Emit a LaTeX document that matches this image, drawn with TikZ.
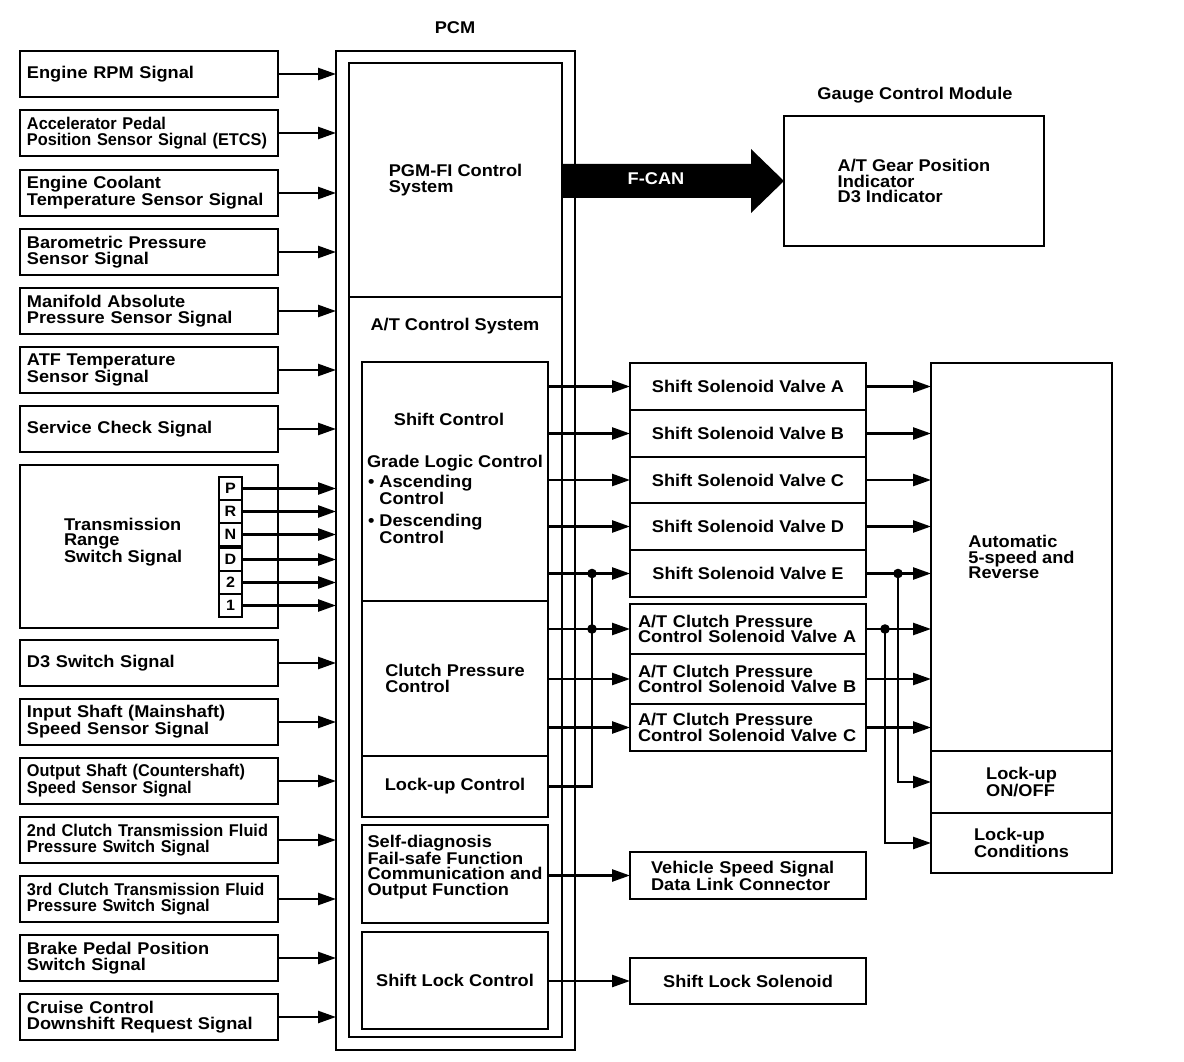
\documentclass[tikz,border=0pt]{standalone}
\usepackage{fontspec}
\newfontfamily\dfont{Liberation Sans}[FakeStretch=1.07]
\newfontfamily\nfont{Liberation Sans}[FakeStretch=0.96]
\usetikzlibrary{arrows.meta}
\newcommand\dtxt{\dfont\bfseries\fontsize{17}{15.5}\selectfont}
\newcommand\ntxt{\nfont\bfseries\fontsize{17}{15.5}\selectfont}
\begin{document}
\begin{tikzpicture}[x=1pt,y=-1pt,
  every node/.style={font=\dtxt, inner sep=0pt, outer sep=0pt},
  bx/.style={draw, line width=1.9pt},
  thinbx/.style={draw, line width=1.5pt},
  inbox/.style={bx, text width=244pt, inner xsep=7pt, minimum height=46pt, align=left, anchor=west},
  cell/.style={draw, line width=1.6pt, minimum width=23pt, minimum height=23pt, font=\dfont\bfseries\fontsize{15}{15}\selectfont},
  sol/.style={thinbx, minimum width=236pt, align=center, anchor=north west},
  cpv/.style={thinbx, text width=220pt, inner xsep=8pt, minimum height=50pt, align=left, anchor=north west},
  sub/.style={thinbx, minimum width=186pt, align=left, anchor=north west},
  rbx/.style={bx, minimum width=181pt, align=left, anchor=north west},
  conn/.style={line width=2.5pt, -{Triangle[length=18pt,width=12pt]}},
  wire/.style={line width=2.5pt}
]
\useasboundingbox (0,0) rectangle (1184,1062);

% ---------- input signal boxes ----------
\node[inbox] (i1) at (20,74) {Engine RPM Signal};
\node[inbox, font=\ntxt] (i2) at (20,133) {Accelerator Pedal\\Position Sensor Signal (ETCS)};
\node[inbox] (i3) at (20,193) {Engine Coolant\\Temperature Sensor Signal};
\node[inbox] (i4) at (20,252) {Barometric Pressure\\Sensor Signal};
\node[inbox] (i5) at (20,311) {Manifold Absolute\\Pressure Sensor Signal};
\node[inbox] (i6) at (20,370) {ATF Temperature\\Sensor Signal};
\node[inbox] (i7) at (20,429) {Service Check Signal};
\node[inbox] (i8) at (20,663) {D3 Switch Signal};
\node[inbox] (i9) at (20,722) {Input Shaft (Mainshaft)\\Speed Sensor Signal};
\node[inbox, font=\ntxt] (i10) at (20,781) {Output Shaft (Countershaft)\\Speed Sensor Signal};
\node[inbox, font=\ntxt] (i11) at (20,840) {2nd Clutch Transmission Fluid\\Pressure Switch Signal};
\node[inbox, font=\ntxt] (i12) at (20,899) {3rd Clutch Transmission Fluid\\Pressure Switch Signal};
\node[inbox] (i13) at (20,958) {Brake Pedal Position\\Switch Signal};
\node[inbox] (i14) at (20,1017) {Cruise Control\\Downshift Request Signal};

% transmission range switch
\node[bx, minimum width=258pt, minimum height=163pt, anchor=north west] (trs) at (20,465) {};
\node[anchor=west, align=left] (trl) at (64,542) {Transmission\\Range\\Switch Signal};
\node[cell] (cP) at (230.5,488.5) {P};
\node[cell] (cR) at (230.5,511.5) {R};
\node[cell] (cN) at (230.5,534.5) {N};
\node[cell] (cD) at (230.5,559.5) {D};
\node[cell] (c2) at (230.5,582.5) {2};
\node[cell] (c1) at (230.5,605.5) {1};

% ---------- PCM ----------
\node (pcmlbl) at (455,28) {PCM};
\node[bx, minimum width=239pt, minimum height=999pt, anchor=north west] (pcm) at (336,51) {};
\node[thinbx, minimum width=213pt, minimum height=234pt, anchor=north west, align=left] (pgm) at (349,63) {PGM-FI Control\\System};
\node[thinbx, minimum width=213pt, minimum height=740pt, anchor=north west] (atcs) at (349,297) {};
\node (atlbl) at (455,326) {A/T Control System};

\node[sub, minimum height=239pt] (shc) at (362,362) {};
\node (shl) at (449,419) {Shift Control};
\node[anchor=west] (glc) at (367,463) {Grade Logic Control};
\node[anchor=west, align=left] (asc) at (368,490) {\textbullet\ Ascending\\\phantom{\textbullet\ }Control};
\node[anchor=west, align=left] (dsc) at (368,529) {\textbullet\ Descending\\\phantom{\textbullet\ }Control};

\node[sub, minimum height=155pt] (cpc) at (362,601) {Clutch Pressure\\Control};
\node[sub, minimum height=61pt] (luc) at (362,756) {Lock-up Control};
\node[sub, minimum height=98pt] (sdg) at (362,825) {};
\node[align=left] (sdl) at (455,867) {Self-diagnosis\\Fail-safe Function\\Communication and\\Output Function};
\node[sub, minimum height=97pt] (slc) at (362,932) {Shift Lock Control};

% ---------- outputs ----------
\node[sol, minimum height=47pt] (sA) at (630,363) {Shift Solenoid Valve A};
\node[sol, minimum height=47pt] (sB) at (630,410) {Shift Solenoid Valve B};
\node[sol, minimum height=46pt] (sC) at (630,457) {Shift Solenoid Valve C};
\node[sol, minimum height=47pt] (sD) at (630,503) {Shift Solenoid Valve D};
\node[sol, minimum height=47pt] (sE) at (630,550) {Shift Solenoid Valve E};
\node[cpv] (cA) at (630,604) {A/T Clutch Pressure\\Control Solenoid Valve A};
\node[cpv] (cB) at (630,654) {A/T Clutch Pressure\\Control Solenoid Valve B};
\node[cpv, minimum height=47pt] (cC) at (630,704) {A/T Clutch Pressure\\Control Solenoid Valve C};
\node[thinbx, text width=194pt, inner xsep=21pt, minimum height=47pt, align=left, anchor=north west] (vss) at (630,852) {Vehicle Speed Signal\\Data Link Connector};
\node[sol, minimum height=46pt] (sls) at (630,958) {Shift Lock Solenoid};

\node[rbx, minimum height=388pt] (aut) at (931,363) {Automatic\\5-speed and\\Reverse};
\node[rbx, minimum height=62pt] (lon) at (931,751) {Lock-up\\ON/OFF};
\node[rbx, minimum height=60pt] (lcd) at (931,813) {Lock-up\\Conditions};

% gauge control module
\node (gcmlbl) at (915,95) {Gauge Control Module};
\node[thinbx, minimum width=260pt, minimum height=130pt, anchor=north west, align=left] (gcm) at (784,116) {A/T Gear Position\\Indicator\\D3 Indicator};

% F-CAN arrow
\fill (562,164) -- (751,164) -- (751,149) -- (gcm.west) -- (751,213) -- (751,198) -- (562,198) -- cycle;
\node[text=white] (fcan) at (656,179) {F-CAN};

% ---------- connectors ----------
\foreach \n in {i1,i2,i3,i4,i5,i6,i7,i8,i9,i10,i11,i12,i13,i14,cP,cR,cN,cD,c2,c1}
  \draw[conn] (\n.east) -- (\n.east -| pcm.west);

\foreach \n in {sA,sB,sC,sD,sE}
  \draw[conn] (\n.west -| shc.east) -- (\n.west);
\foreach \n in {cA,cB,cC}
  \draw[conn] (\n.west -| cpc.east) -- (\n.west);

\path (sE.west) ++(-38,0) coordinate (jE);
\coordinate (jA) at (jE |- cA.west);
\draw[wire] (luc.east) -| (jE);
\fill (jE) circle (4.8pt);
\fill (jA) circle (4.8pt);

\foreach \n in {sA,sB,sC,sD,sE,cA,cB,cC}
  \draw[conn] (\n.east) -- (\n.east -| aut.west);

\path (sE.east) ++(32,0) coordinate (kE);
\path (cA.east) ++(19,0) coordinate (kA);
\draw[conn] (kE) |- (lon.west);
\draw[conn] (kA) |- (lcd.west);
\fill (kE) circle (4.8pt);
\fill (kA) circle (4.8pt);

\draw[conn] (sdg.east |- vss.west) -- (vss.west);
\draw[conn] (slc.east |- sls.west) -- (sls.west);
\end{tikzpicture}
\end{document}
